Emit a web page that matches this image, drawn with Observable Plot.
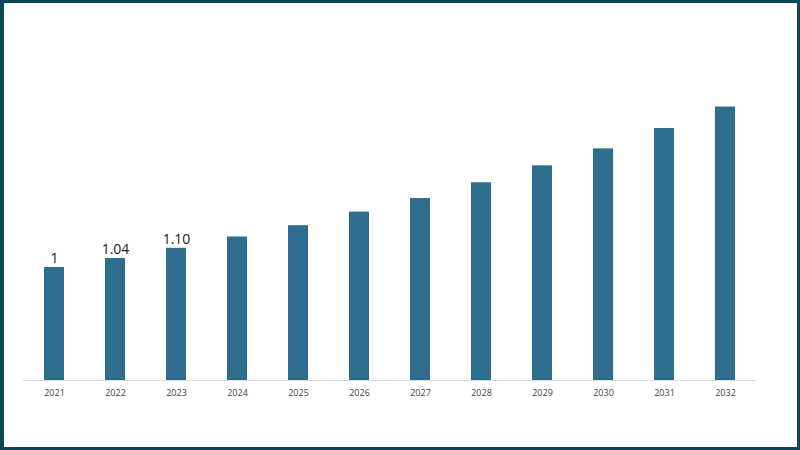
<!DOCTYPE html>
<html>
<head>
<meta charset="utf-8">
<script src="https://cdn.jsdelivr.net/npm/d3@7"></script>
<script src="https://cdn.jsdelivr.net/npm/@observablehq/plot@0.6"></script>
<style>
  html, body { margin: 0; padding: 0; background: #fff; }
  #wrap { position: relative; width: 800px; height: 450px; overflow: hidden; }
  #frame { position: absolute; left: 0; top: 0; width: 800px; height: 450px; box-sizing: border-box;
           border: 3px solid #0d4658; border-left-width: 4px; pointer-events: none; }
</style>
</head>
<body>
<div id="wrap"><div id="frame"></div></div>
<script>
const years = ["2021","2022","2023","2024","2025","2026","2027","2028","2029","2030","2031","2032"];
const values = [1, 1.08, 1.17, 1.27, 1.37, 1.49, 1.61, 1.75, 1.90, 2.05, 2.23, 2.42];
const labelYears = ["2021","2022","2023"];
const labelTexts = ["1","1.04","1.10"];

const data = years.map((y, i) => ({year: y, value: values[i]}));
const labels = labelYears.map((y, i) => ({year: y, value: values[years.indexOf(y)], text: labelTexts[i]}));

const chart = Plot.plot({
  width: 800,
  height: 450,
  marginLeft: 23,
  marginRight: 44,
  marginTop: 20,
  marginBottom: 70,
  style: {fontFamily: "'Open Sans', 'DejaVu Sans', sans-serif", background: "transparent"},
  x: {domain: years, paddingInner: 0.68, paddingOuter: 0.34, label: null, tickSize: 0, tickPadding: 9},
  y: {domain: [0, 360 / 113], axis: null},
  marks: [
    Plot.barY(data, {x: "year", y: "value", fill: "#2f6d8e"}),
    Plot.ruleY([0], {stroke: "#d9d9d9", strokeWidth: 1}),
    Plot.axisX({tickSize: 0, tickPadding: 9, fontSize: 9, fill: "#444", label: null}),
    Plot.text(labels, {x: "year", y: "value", text: "text", dy: -9, fontSize: 14, fill: "#222"})
  ]
});
document.getElementById("wrap").insertBefore(chart, document.getElementById("frame"));
</script>
</body>
</html>
